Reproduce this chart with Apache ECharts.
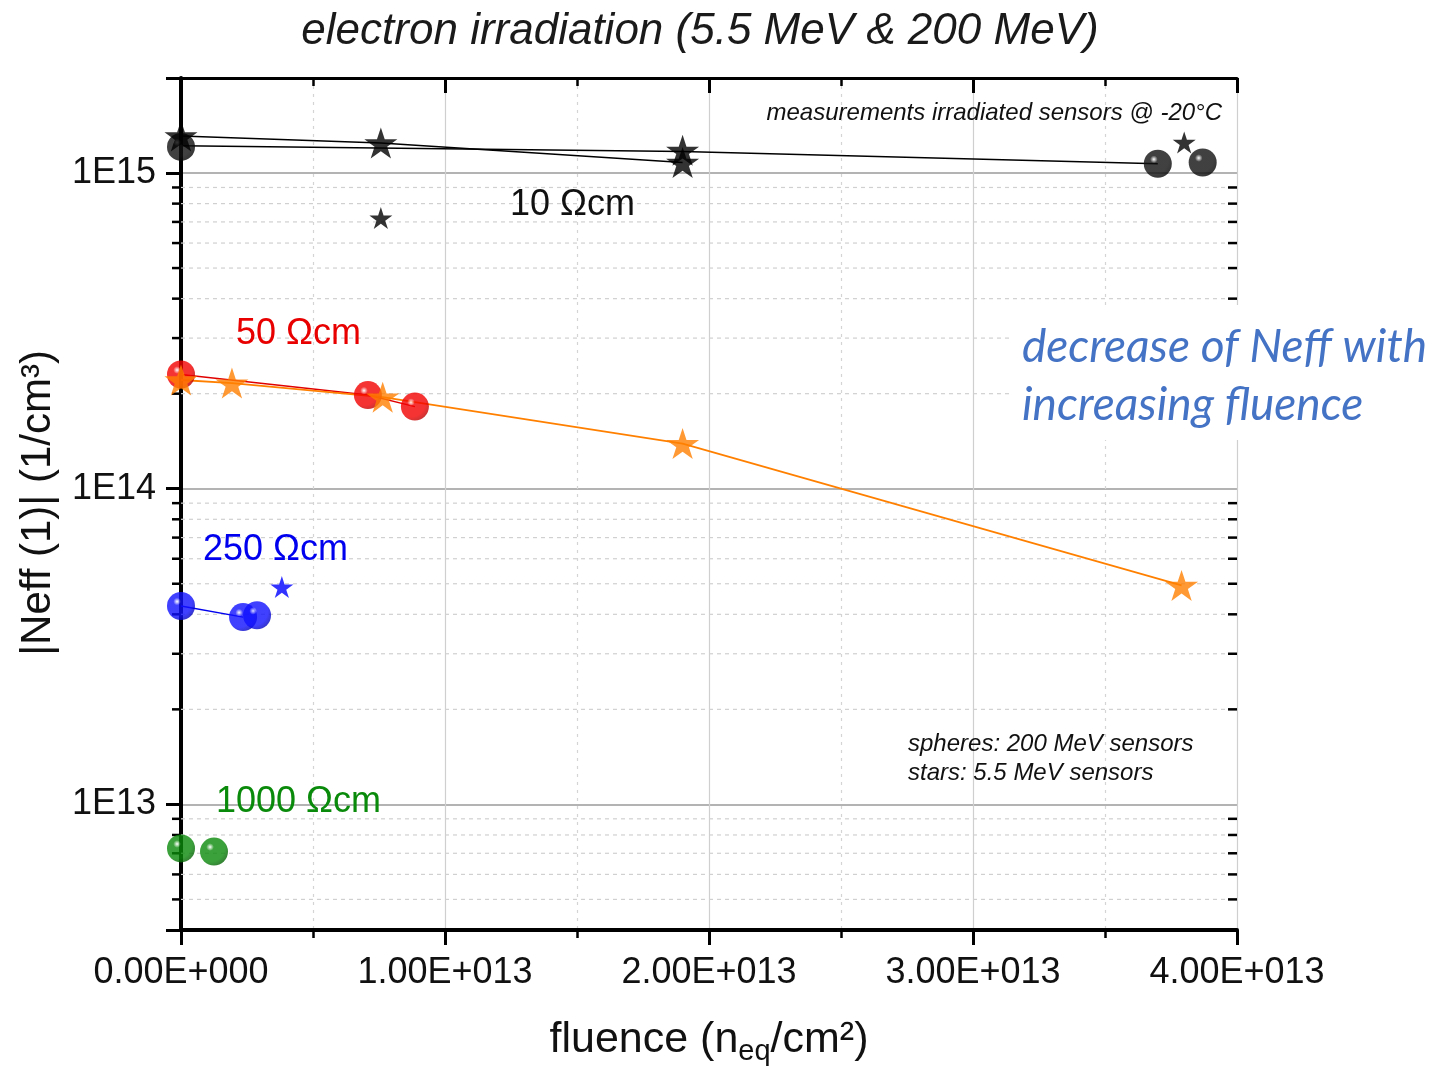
<!DOCTYPE html>
<html>
<head>
<meta charset="utf-8">
<title>electron irradiation</title>
<script src="https://cdn.jsdelivr.net/npm/echarts@6/dist/echarts.min.js"></script>
<style>
  html, body { margin: 0; padding: 0; background: #ffffff; }
  #chart { width: 1440px; height: 1070px; }
</style>
</head>
<body>
<div id="chart"></div>
<script>
// ---- data: [fluence (n_eq/cm^2), |Neff| (1/cm^3)] ----
const xTicks = [0, 1e13, 2e13, 3e13, 4e13];
const yDecades = [1e13, 1e14, 1e15];

// 10 Ohm cm
const black10StarLine = [[0, 1.31e15], [0.757e13, 1.245e15], [1.9e13, 1.08e15]];
const black10SphereLine = [[0, 1.22e15], [1.9e13, 1.17e15], [3.70e13, 1.07e15]];
const black10Spheres = [[0, 1.21e15], [3.70e13, 1.07e15], [3.87e13, 1.08e15]];
const black10StarsBig = [[0, 1.31e15], [0.757e13, 1.245e15], [1.9e13, 1.18e15], [1.9e13, 1.08e15]];
const black10StarsSmall = [[0.757e13, 7.2e14], [3.80e13, 1.25e15]];

// 50 Ohm cm
const red50Spheres = [[0, 2.30e14], [0.708e13, 1.98e14], [0.886e13, 1.82e14]];
const orange50Stars = [[0, 2.21e14], [0.193e13, 2.16e14], [0.764e13, 1.95e14], [1.9e13, 1.39e14], [3.79e13, 4.94e13]];

// 250 Ohm cm
const blue250Spheres = [[0, 4.25e13], [0.235e13, 3.92e13], [0.288e13, 3.97e13]];
const blue250Line = [[0, 4.25e13], [0.235e13, 3.92e13]];
const blue250Stars = [[0.382e13, 4.88e13]];

// 1000 Ohm cm
const green1000Spheres = [[0, 7.25e12], [0.125e13, 7.09e12]];

// minor log grid values (2..9 within each decade inside the axis range)
const yMin = 4e12, yMax = 2e15;
const yMinor = [];
[1e12, 1e13, 1e14, 1e15].forEach(function (d) {
  for (let k = 2; k <= 9; k++) {
    const v = k * d;
    if (v > yMin && v < yMax && yDecades.indexOf(v) < 0) yMinor.push([0, v]);
  }
});

const FONT = '"Liberation Sans", Arial, sans-serif';
const STAR = 'path://M50 0 L61.2 34.5 L97.6 34.5 L68.2 55.9 L79.4 90.5 L50 69.1 L20.6 90.5 L31.8 55.9 L2.4 34.5 L38.8 34.5 Z';

function sphere(base, dark) {
  return {
    type: 'radial', x: 0.36, y: 0.34, r: 0.75,
    colorStops: [
      { offset: 0, color: '#ffffff' },
      { offset: 0.18, color: base },
      { offset: 0.7, color: base },
      { offset: 1, color: dark }
    ]
  };
}

function fmtX(v) {
  if (v === 0) return '0.00E+000';
  const e = Math.floor(Math.log10(v) + 1e-9);
  const m = v / Math.pow(10, e);
  return m.toFixed(2) + 'E+' + String(e).padStart(3, '0');
}
function fmtY(v) {
  for (let i = 0; i < yDecades.length; i++) {
    if (Math.abs(v - yDecades[i]) / yDecades[i] < 1e-6) return '1E' + Math.round(Math.log10(v));
  }
  return '';
}

const chart = echarts.init(document.getElementById('chart'), null, { renderer: 'canvas' });

const axisLineStyle = { color: '#000', width: 3 };

const option = {
  backgroundColor: '#ffffff',
  animation: false,
  grid: { left: 181, right: 203, top: 78, bottom: 140, containLabel: false },
  xAxis: [
    {
      type: 'value', min: 0, max: 4e13, interval: 1e13, position: 'bottom',
      axisLine: { show: true, lineStyle: { color: '#000', width: 4 } },
      axisTick: { show: true, inside: false, length: 15, lineStyle: { color: '#000', width: 3 } },
      minorTick: { show: true, splitNumber: 2, length: 8, lineStyle: { color: '#000', width: 2.5 } },
      axisLabel: { color: '#111', fontFamily: FONT, fontSize: 36, margin: 25, formatter: fmtX },
      splitLine: { show: true, lineStyle: { color: '#cfcfcf', width: 1.2 } },
      minorSplitLine: { show: true, lineStyle: { color: '#d4d4d4', width: 1.2, type: [3, 5] } }
    },
    {
      type: 'value', min: 0, max: 4e13, interval: 1e13, position: 'top',
      axisLine: { show: true, lineStyle: axisLineStyle },
      axisTick: { show: true, inside: true, length: 15, lineStyle: { color: '#000', width: 3 } },
      minorTick: { show: true, splitNumber: 2, length: 8, lineStyle: { color: '#000', width: 2.5 } },
      axisLabel: { show: false },
      splitLine: { show: false }
    }
  ],
  yAxis: [
    {
      type: 'log', logBase: 10, min: yMin, max: yMax, position: 'left',
      axisLine: { show: true, lineStyle: { color: '#000', width: 4 } },
      axisTick: { show: true, inside: false, length: 15, lineStyle: { color: '#000', width: 3 } },
      axisLabel: { color: '#111', fontFamily: FONT, fontSize: 36, margin: 25, formatter: fmtY },
      splitLine: { show: true, lineStyle: { color: '#9a9a9a', width: 1.5 } }
    },
    {
      type: 'log', logBase: 10, min: yMin, max: yMax, position: 'right',
      axisLine: { show: true, lineStyle: axisLineStyle },
      axisTick: { show: true, inside: true, length: 15, lineStyle: { color: '#000', width: 3 } },
      axisLabel: { show: false },
      splitLine: { show: false }
    }
  ],
  series: [
    // minor decade grid with short ticks on the left (outside) and right (inside)
    {
      type: 'custom', name: 'minor-grid', data: yMinor, clip: false, silent: true, z: 1,
      xAxisIndex: 0, yAxisIndex: 0,
      renderItem: function (params, api) {
        const y = api.coord([0, api.value(1)])[1];
        const cs = params.coordSys;
        return {
          type: 'group',
          children: [
            { type: 'line', shape: { x1: cs.x, y1: y, x2: cs.x + cs.width, y2: y },
              style: { stroke: '#d0d0d0', lineWidth: 1.2, lineDash: [4, 4] } },
            { type: 'line', shape: { x1: cs.x - 9, y1: y, x2: cs.x, y2: y },
              style: { stroke: '#000', lineWidth: 2.5 } },
            { type: 'line', shape: { x1: cs.x + cs.width - 9, y1: y, x2: cs.x + cs.width, y2: y },
              style: { stroke: '#000', lineWidth: 2.5 } }
          ]
        };
      }
    },
    // connecting lines
    { type: 'line', data: black10StarLine, showSymbol: false, symbol: 'none', z: 3,
      lineStyle: { color: '#000', width: 1.6 } },
    { type: 'line', data: black10SphereLine, showSymbol: false, symbol: 'none', z: 3,
      lineStyle: { color: '#000', width: 1.6 } },
    { type: 'line', data: red50Spheres, showSymbol: false, symbol: 'none', z: 3,
      lineStyle: { color: '#e00000', width: 1.4 } },
    { type: 'line', data: orange50Stars, showSymbol: false, symbol: 'none', z: 3,
      lineStyle: { color: '#ff8000', width: 1.8 } },
    { type: 'line', data: blue250Line, showSymbol: false, symbol: 'none', z: 3,
      lineStyle: { color: '#0000ee', width: 1.4 } },
    // 200 MeV sensors (spheres)
    { type: 'scatter', data: black10Spheres, symbol: 'circle', symbolSize: 28, z: 4,
      itemStyle: { color: sphere('#111111', '#000000') } },
    { type: 'scatter', data: red50Spheres, symbol: 'circle', symbolSize: 28, z: 4,
      itemStyle: { color: sphere('#f20000', '#b00000') } },
    { type: 'scatter', data: blue250Spheres, symbol: 'circle', symbolSize: 28, z: 4,
      itemStyle: { color: sphere('#1010ff', '#0000b0') } },
    { type: 'scatter', data: green1000Spheres, symbol: 'circle', symbolSize: 28, z: 4,
      itemStyle: { color: sphere('#0a8a0a', '#005800') } },
    // 5.5 MeV sensors (stars)
    { type: 'scatter', data: black10StarsBig, symbol: STAR, symbolSize: [33, 31], z: 5,
      itemStyle: { color: '#000' } },
    { type: 'scatter', data: black10StarsSmall, symbol: STAR, symbolSize: [23, 22], z: 5,
      itemStyle: { color: '#000' } },
    { type: 'scatter', data: orange50Stars, symbol: STAR, symbolSize: [33, 31], z: 5,
      itemStyle: { color: '#ff7f00' } },
    { type: 'scatter', data: blue250Stars, symbol: STAR, symbolSize: [23, 22], z: 5,
      itemStyle: { color: '#0000ff' } }
  ],
  graphic: [
    { type: 'text', x: 700, y: 32, z: 10,
      style: { text: 'electron irradiation (5.5 MeV & 200 MeV)', font: 'italic 44px ' + FONT, fill: '#1a1a1a', align: 'center', verticalAlign: 'middle' } },
    { type: 'text', x: 38, y: 503, rotation: Math.PI / 2, z: 10,
      style: { text: '|Neff (1)| (1/cm³)', font: '42px ' + FONT, fill: '#111', align: 'center', verticalAlign: 'middle' } },
    { type: 'text', x: 709, y: 1040, z: 10,
      style: {
        text: '{a|fluence (n}{s|eq}{a|/cm²)}', align: 'center', verticalAlign: 'middle',
        rich: {
          a: { font: '43px ' + FONT, fill: '#111', lineHeight: 50 },
          s: { font: '29px ' + FONT, fill: '#111', lineHeight: 50, padding: [24, 0, 0, 0] }
        }
      } },
    { type: 'text', x: 510, y: 205, z: 10,
      style: { text: '10 Ωcm', font: '36px ' + FONT, fill: '#111', verticalAlign: 'middle' } },
    { type: 'text', x: 236, y: 334, z: 10,
      style: { text: '50 Ωcm', font: '36px ' + FONT, fill: '#e80000', verticalAlign: 'middle' } },
    { type: 'text', x: 203, y: 550, z: 10,
      style: { text: '250 Ωcm', font: '36px ' + FONT, fill: '#0000ee', verticalAlign: 'middle' } },
    { type: 'text', x: 216, y: 802, z: 10,
      style: { text: '1000 Ωcm', font: '36px ' + FONT, fill: '#0a8a0a', verticalAlign: 'middle' } },
    { type: 'text', x: 1222, y: 113, z: 10,
      style: { text: 'measurements irradiated sensors @ -20°C', font: 'italic 24px ' + FONT, fill: '#111', align: 'right', verticalAlign: 'middle' } },
    { type: 'text', x: 908, y: 744, z: 10,
      style: { text: 'spheres: 200 MeV sensors', font: 'italic 24px ' + FONT, fill: '#111', verticalAlign: 'middle' } },
    { type: 'text', x: 908, y: 773, z: 10,
      style: { text: 'stars: 5.5 MeV sensors', font: 'italic 24px ' + FONT, fill: '#111', verticalAlign: 'middle' } },
    { type: 'rect', shape: { x: 1012, y: 305, width: 428, height: 135 }, z: 20,
      style: { fill: '#ffffff' } },
    { type: 'text', x: 1022, y: 347, z: 21,
      style: { text: 'decrease of Neff with', font: 'italic 46px Lato, "Open Sans", sans-serif', fill: '#4472c4', verticalAlign: 'middle' } },
    { type: 'text', x: 1022, y: 405, z: 21,
      style: { text: 'increasing fluence', font: 'italic 46px Lato, "Open Sans", sans-serif', fill: '#4472c4', verticalAlign: 'middle' } }
  ]
};

chart.setOption(option);
</script>
</body>
</html>
